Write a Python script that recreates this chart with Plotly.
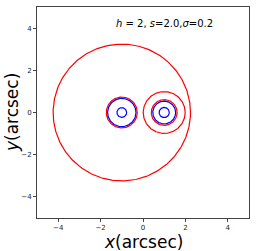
import numpy as np
import plotly.graph_objects as go

# circle data: centers (x, y), radii, colours
circle_cx = [-1.0, -1.0, -1.0, -1.0, 1.0, 1.0, 1.0, 1.0]
circle_cy = [0.0, 0.0, 0.0, 0.0, 0.0, 0.0, 0.0, 0.0]
circle_r = [3.24, 0.73, 0.67, 0.23, 0.99, 0.61, 0.54, 0.24]
circle_color = ["red", "red", "blue", "blue", "red", "red", "blue", "blue"]

label_text = "<i>h</i> = 2, <i>s</i>=2.0,<i>σ</i>=0.2"
x_title = "<i>x</i>(arcsec)"
y_title = "<i>y</i>(arcsec)"
tick_vals = [-4, -2, 0, 2, 4]

t = np.linspace(0, 2 * np.pi, 400)
fig = go.Figure()
for cx, cy, r, c in zip(circle_cx, circle_cy, circle_r, circle_color):
    fig.add_trace(go.Scatter(x=cx + r * np.cos(t), y=cy + r * np.sin(t),
                             mode="lines", line=dict(color=c, width=1.2),
                             showlegend=False, hoverinfo="skip"))

fig.add_annotation(x=1.0, y=4.22, text=label_text, showarrow=False,
                   font=dict(family="DejaVu Sans", size=10, color="black"))
fig.add_annotation(x=0.5, xref="paper", y=-0.115, yref="paper", yanchor="middle",
                   text=x_title, showarrow=False, height=18, borderpad=0,
                   font=dict(family="DejaVu Sans", size=17, color="black"))
fig.add_annotation(x=-0.12, xref="paper", y=0.5, yref="paper", xanchor="center",
                   yanchor="middle", text=y_title, showarrow=False, textangle=-90,
                   font=dict(family="DejaVu Sans", size=17, color="black"))

axis_common = dict(range=[-5, 5], tickvals=tick_vals, showgrid=False, zeroline=False,
                   showline=True, linecolor="#444", linewidth=1, mirror=True,
                   ticks="outside", ticklen=3, tickcolor="#444", automargin=False,
                   tickfont=dict(family="DejaVu Sans", size=7, color="#222"))

fig.update_layout(
    width=256, height=251,
    margin=dict(l=37, r=7, t=7, b=33),
    paper_bgcolor="white", plot_bgcolor="white",
    xaxis=dict(**axis_common),
    yaxis=dict(**axis_common),
)
fig.write_html("out.html", config={"displayModeBar": False},
               post_script="document.body.style.margin='0';document.body.style.overflow='hidden';")
